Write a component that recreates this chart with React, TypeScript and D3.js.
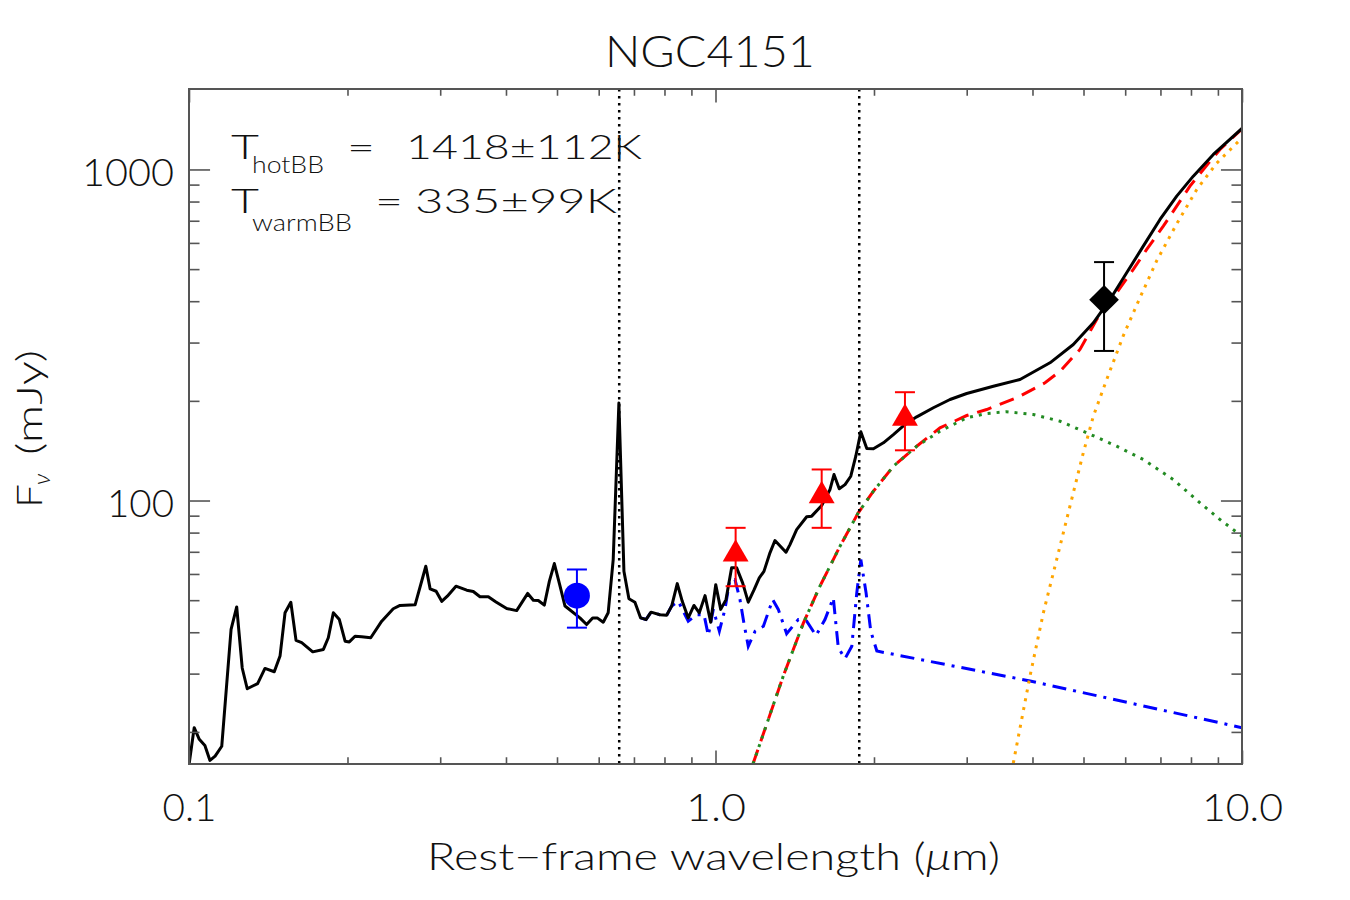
import React, { useEffect, useRef } from 'react';
import * as d3 from 'd3';

type Pt = [number, number]; // [wavelength (µm), flux (mJy)]

// observed spectrum
const spectrum: Pt[] = [
  [0.1, 15.9], [0.1023, 20.6], [0.1046, 19.0], [0.1072, 18.2], [0.1096, 16.4], [0.1121, 16.9],
  [0.1154, 18.1], [0.1202, 40.8], [0.1232, 47.7], [0.1262, 31.2], [0.129, 27.0], [0.135, 28.0],
  [0.1394, 31.1], [0.1452, 30.4], [0.1489, 33.9], [0.1522, 45.8], [0.1561, 49.3], [0.1597, 37.8],
  [0.1637, 37.2], [0.1718, 34.9], [0.18, 35.5], [0.1839, 38.5], [0.188, 45.8], [0.193, 43.7],
  [0.1979, 37.6], [0.2016, 37.4], [0.2067, 38.9], [0.2128, 38.8], [0.2214, 38.5], [0.2323, 43.2],
  [0.2443, 47.1], [0.2516, 48.2], [0.2688, 48.4], [0.2817, 63.3], [0.2871, 54.1], [0.2947, 53.2],
  [0.302, 49.6], [0.3095, 51.4], [0.3214, 55.1], [0.3369, 53.6], [0.3467, 53.1], [0.357, 51.2],
  [0.3703, 51.2], [0.3829, 49.4], [0.4012, 47.2], [0.4191, 46.5], [0.4399, 52.4], [0.4508, 50.0],
  [0.4607, 49.9], [0.473, 48.3], [0.4835, 57.0], [0.4942, 64.5], [0.5067, 55.1], [0.5178, 48.0],
  [0.5527, 44.2], [0.5691, 42.2], [0.5843, 44.2], [0.5961, 44.2], [0.612, 42.9], [0.6254, 45.8],
  [0.6393, 66.3], [0.6554, 197], [0.67, 61.1], [0.6848, 50.5], [0.703, 49.3], [0.7208, 44.2],
  [0.7379, 43.7], [0.7542, 46.0], [0.7844, 45.2], [0.8076, 45.0], [0.8256, 48.0], [0.846, 56.1],
  [0.8647, 49.6], [0.8877, 44.2], [0.9101, 48.2], [0.9316, 45.8], [0.9552, 51.6], [0.9792, 42.9],
  [1.001, 55.7], [1.023, 46.9], [1.047, 50.2], [1.073, 62.6], [1.097, 62.6], [1.126, 56.4],
  [1.154, 49.3], [1.184, 53.8], [1.211, 58.4], [1.236, 61.1], [1.269, 69.5], [1.297, 75.7],
  [1.361, 69.8], [1.385, 73.6], [1.426, 81.7], [1.49, 89.3], [1.523, 89.7], [1.591, 96.6],
  [1.65, 108.0], [1.679, 119.8], [1.718, 108.5], [1.762, 111.7], [1.807, 118.4], [1.847, 136.1],
  [1.888, 161.3], [1.938, 143.6], [1.995, 143.3],
];

// total model past the end of the spectrum
const totalModel: Pt[] = [
  [2.084, 149.4], [2.177, 158.2], [2.291, 169.7], [2.411, 179.0], [2.593, 190.6], [2.789, 201.9],
  [3.0, 210.5], [3.371, 221.5], [3.788, 232.1], [4.318, 260.6], [4.782, 296.0], [5.22, 344.3],
  [5.614, 404.9], [6.039, 487.5], [6.494, 586.7], [6.987, 706.3], [7.516, 830.6], [8.081, 954.5],
  [8.822, 1110], [10.0, 1330],
];

// accretion disc + host (spectrum with the dust removed), power law past 2 µm
const discComponent: Pt[] = [
  [0.7208, 44.2], [0.7379, 43.7], [0.7542, 46.0], [0.7844, 45.2], [0.8076, 45.0], [0.8256, 48.0],
  [0.85, 49.6], [0.8877, 43.2], [0.9211, 45.2], [0.9511, 45.2], [0.969, 39.1], [0.9904, 46.9],
  [1.017, 40.3], [1.042, 46.9], [1.065, 57.7], [1.089, 57.7], [1.113, 50.2], [1.132, 42.7],
  [1.154, 36.3], [1.189, 40.3], [1.233, 41.7], [1.284, 50.2], [1.316, 46.9], [1.365, 39.6],
  [1.436, 43.7], [1.49, 43.2], [1.552, 39.1], [1.614, 43.7], [1.674, 50.8], [1.711, 35.9],
  [1.762, 33.3], [1.815, 36.3], [1.855, 52.6], [1.888, 66.3], [1.932, 52.6], [1.972, 40.3],
  [2.025, 35.1], [3.957, 28.5], [10.0, 20.6],
];

// hot blackbody
const hotDust: Pt[] = [
  [1.178, 16.0], [1.345, 29.5], [1.469, 42.7], [1.579, 55.1], [1.724, 72.8], [1.867, 91.8],
  [1.995, 106.7], [2.177, 126.9], [2.411, 145.9], [2.669, 162.0], [3.0, 177.8], [3.274, 183.2],
  [3.573, 185.4], [4.015, 181.9], [4.512, 173.6], [5.07, 160.2], [5.781, 145.9], [6.494, 133.0],
  [7.405, 115.7], [8.322, 98.4], [9.082, 87.6], [10.0, 78.0],
];

// hot + warm blackbody
const dustSum: Pt[] = [
  [1.178, 16.0], [1.345, 29.5], [1.469, 42.7], [1.579, 55.1], [1.724, 72.8], [1.867, 91.8],
  [1.995, 106.7], [2.177, 126.9], [2.411, 145.9], [2.669, 165.8], [3.0, 180.6], [3.274, 188.3],
  [3.733, 204.3], [4.226, 226.8], [4.512, 245.8], [4.923, 285.9], [5.297, 352.3], [5.781, 424.2],
  [6.216, 498.9], [6.592, 573.4], [7.088, 674.2], [7.516, 774.5], [7.965, 890.2], [8.444, 1000],
  [9.082, 1149], [10.0, 1326],
];

// warm blackbody
const warmDust: Pt[] = [
  [3.678, 16.1], [3.957, 29.5], [4.195, 45.8], [4.446, 66.3], [4.712, 96.1], [4.995, 139.3],
  [5.22, 179.8], [5.534, 232.1], [5.952, 315.0], [6.402, 410.0], [6.887, 530.0], [7.516, 685],
  [8.204, 870], [8.953, 1045], [9.88, 1222], [10.0, 1240],
];

// photometry: wavelength, flux, error
const opticalPhot = [{ wave: 0.5455, flux: 51.6, err: 10.3 }];
const nirPhot = [
  { wave: 1.092, flux: 68.9, err: 13.8 },
  { wave: 1.591, flux: 103.4, err: 20.7 },
  { wave: 2.29, flux: 177.1, err: 35.3 },
];
const midIrPhot = [{ wave: 5.47, flux: 404, err: 121 }];

// Hα and Paα
const lineWaves = [0.6563, 1.875];

const xMajor = [0.1, 1, 10];
const xMajorLabels = ['0.1', '1.0', '10.0'];
const xMinor = [0.2, 0.3, 0.4, 0.5, 0.6, 0.7, 0.8, 0.9, 2, 3, 4, 5, 6, 7, 8, 9];
const yMajor = [100, 1000];
const yMinor = [20, 30, 40, 50, 60, 70, 80, 90, 200, 300, 400, 500, 600, 700, 800, 900];

const FONT = "Lato, 'DejaVu Sans', sans-serif";
const AXIS = '#555';

const L = 189, R = 1242, T = 89, B = 764;

// widths of the wide stroke-font tick labels
const labelWidths: Record<string, number> = { '0.1': 54, '1.0': 60, '10.0': 81, '100': 67, '1000': 92 };

export default function App() {
  const axesRef = useRef<SVGGElement>(null);

  const x = d3.scaleLog().domain([0.1, 10]).range([L, R]);
  const y = d3.scaleLog().domain([16, 1750]).range([B, T]);
  const line = d3.line<Pt>().x((d) => x(d[0])).y((d) => y(d[1]));

  useEffect(() => {
    const g = d3.select(axesRef.current);
    g.selectAll('*').remove();
    const xLen = 0.02 * (B - T);
    const yLen = 0.02 * (R - L);

    const add = (tr: string, axis: any, cls: string) =>
      g.append('g').attr('class', cls).attr('transform', tr).call(axis);

    add(`translate(0,${B})`, d3.axisBottom(x).tickValues(xMajor).tickSize(-xLen).tickSizeOuter(0)
      .tickPadding(31).tickFormat((d, i) => xMajorLabels[i]), 'x-major');
    add(`translate(0,${B})`, d3.axisBottom(x).tickValues(xMinor).tickSize(-xLen / 2).tickSizeOuter(0).tickFormat(() => ''), 'x-minor');
    add(`translate(0,${T})`, d3.axisTop(x).tickValues(xMajor).tickSize(-xLen).tickSizeOuter(0).tickFormat(() => ''), 'x-top');
    add(`translate(0,${T})`, d3.axisTop(x).tickValues(xMinor).tickSize(-xLen / 2).tickSizeOuter(0).tickFormat(() => ''), 'x-top');

    add(`translate(${L},0)`, d3.axisLeft(y).tickValues(yMajor).tickSize(-yLen).tickSizeOuter(0)
      .tickPadding(15).tickFormat((d) => String(d)), 'y-major');
    add(`translate(${L},0)`, d3.axisLeft(y).tickValues(yMinor).tickSize(-yLen / 2).tickSizeOuter(0).tickFormat(() => ''), 'y-minor');
    add(`translate(${R},0)`, d3.axisRight(y).tickValues(yMajor).tickSize(-yLen).tickSizeOuter(0).tickFormat(() => ''), 'y-right');
    add(`translate(${R},0)`, d3.axisRight(y).tickValues(yMinor).tickSize(-yLen / 2).tickSizeOuter(0).tickFormat(() => ''), 'y-right');

    g.selectAll('.domain').remove();
    g.selectAll('g').attr('font-family', FONT).attr('font-size', 37).style('color', AXIS);
    g.selectAll('.tick line').attr('stroke-width', 1.6);
    g.selectAll('.tick text')
      .attr('fill', '#111')
      .attr('font-weight', 300)
      .attr('lengthAdjust', 'spacingAndGlyphs')
      .attr('textLength', function () {
        return labelWidths[(this as SVGTextElement).textContent || ''] || null;
      });
    g.selectAll('.y-major .tick text').attr('dy', '0.42em');
  }, []);

  const tri = d3.symbol().type(d3.symbolTriangle).size(290)() as string;
  const diamond = d3.symbol().type(d3.symbolSquare).size(441)() as string;

  const errBar = (wave: number, flux: number, err: number, color: string, key: string) => {
    const cx = x(wave);
    const y0 = y(flux - err);
    const y1 = y(flux + err);
    return (
      <g key={key} stroke={color} strokeWidth={2}>
        <line x1={cx} x2={cx} y1={y0} y2={y1} />
        <line x1={cx - 10} x2={cx + 10} y1={y0} y2={y0} />
        <line x1={cx - 10} x2={cx + 10} y1={y1} y2={y1} />
      </g>
    );
  };

  return (
    <svg width={1350} height={900} style={{ position: 'absolute', left: 0, top: 0, background: '#fff' }}>
      <defs>
        <clipPath id="plot-area">
          <rect x={L} y={T} width={R - L} height={B - T} />
        </clipPath>
      </defs>

      <text x={605} y={67} fontFamily={FONT} fontWeight={300} fontSize={43} fill="#111"
        textLength={210} lengthAdjust="spacingAndGlyphs">NGC4151</text>

      <g clipPath="url(#plot-area)" fill="none" strokeWidth={3}>
        <path d={line(discComponent) || ''} stroke="#0000ff" strokeDasharray="14 7 3 7" />
        <path d={line(warmDust) || ''} stroke="#ffa500" strokeDasharray="3 6" />
        <path d={line(dustSum) || ''} stroke="#ff0000" strokeDasharray="15 9" />
        <path d={line(hotDust) || ''} stroke="#228b22" strokeDasharray="3 6" />
        <path d={line([...spectrum, ...totalModel]) || ''} stroke="#000" strokeLinejoin="round" />
        {lineWaves.map((w) => (
          <line key={w} x1={x(w)} x2={x(w)} y1={T} y2={B} stroke="#000" strokeWidth={2.5} strokeDasharray="2.5 4.5" />
        ))}
      </g>

      {opticalPhot.map((p, i) => (
        <g key={'o' + i}>
          {errBar(p.wave, p.flux, p.err, '#0000ff', 'oe' + i)}
          <circle cx={x(p.wave)} cy={y(p.flux)} r={13} fill="#0000ff" />
        </g>
      ))}
      {nirPhot.map((p, i) => (
        <g key={'n' + i}>
          {errBar(p.wave, p.flux, p.err, '#ff0000', 'ne' + i)}
          <path d={tri} transform={`translate(${x(p.wave)},${y(p.flux)})`} fill="#ff0000" />
        </g>
      ))}
      {midIrPhot.map((p, i) => (
        <g key={'m' + i}>
          {errBar(p.wave, p.flux, p.err, '#000', 'me' + i)}
          <path d={diamond} transform={`translate(${x(p.wave)},${y(p.flux)}) rotate(45)`} fill="#000" />
        </g>
      ))}

      <rect x={L} y={T} width={R - L} height={B - T} fill="none" stroke={AXIS} strokeWidth={2} />
      <g ref={axesRef} />

      <g fontFamily={FONT} fontWeight={300} fill="#111">
        <text x={231} y={159} fontSize={34} textLength={28} lengthAdjust="spacingAndGlyphs">T</text>
        <text x={252} y={173} fontSize={23} textLength={72} lengthAdjust="spacingAndGlyphs">hotBB</text>
        <text x={347} y={159} fontSize={34} textLength={28} lengthAdjust="spacingAndGlyphs">=</text>
        <text x={406} y={159} fontSize={34} textLength={236} lengthAdjust="spacingAndGlyphs">1418±112K</text>

        <text x={231} y={213} fontSize={34} textLength={28} lengthAdjust="spacingAndGlyphs">T</text>
        <text x={252} y={231} fontSize={23} textLength={100} lengthAdjust="spacingAndGlyphs">warmBB</text>
        <text x={375} y={213} fontSize={34} textLength={28} lengthAdjust="spacingAndGlyphs">=</text>
        <text x={415} y={213} fontSize={34} textLength={202} lengthAdjust="spacingAndGlyphs">335±99K</text>

        <text x={427} y={870} fontSize={37} textLength={573} lengthAdjust="spacingAndGlyphs">Rest−frame wavelength (<tspan fontStyle="italic">μ</tspan>m)</text>

        <g transform="translate(42,508) rotate(-90)">
          <text x={0} y={0} fontSize={36} textLength={24} lengthAdjust="spacingAndGlyphs">F</text>
          <text x={23} y={8} fontSize={24} fontStyle="italic">ν</text>
          <text x={53} y={0} fontSize={36} textLength={105} lengthAdjust="spacingAndGlyphs">(mJy)</text>
        </g>
      </g>
    </svg>
  );
}
